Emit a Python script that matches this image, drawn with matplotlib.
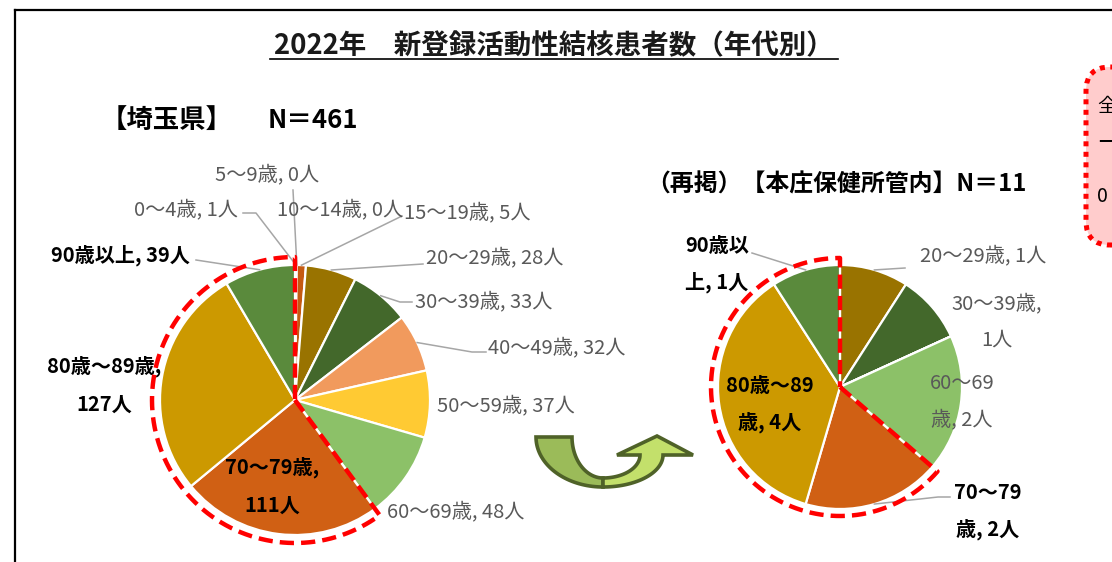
import numpy as np
import matplotlib
matplotlib.use("Agg")
import matplotlib.pyplot as plt
from matplotlib.patches import Polygon, FancyBboxPatch
from matplotlib.lines import Line2D

plt.rcParams['font.family'] = ['Noto Sans CJK JP', 'DejaVu Sans']

# ---------------- data ----------------
categories = ["0～4歳", "5～9歳", "10～14歳", "15～19歳", "20～29歳", "30～39歳",
              "40～49歳", "50～59歳", "60～69歳", "70～79歳", "80歳～89歳", "90歳以上"]
saitama_counts = [1, 0, 0, 5, 28, 33, 32, 37, 48, 111, 127, 39]
honjo_counts = [0, 0, 0, 0, 1, 1, 0, 0, 2, 2, 4, 1]
slice_colors = ["#843C0C", "#7F6000", "#A5A5A5", "#C55A11", "#997300", "#43682B",
                "#F19A5D", "#FFCA33", "#8CC168", "#D06014", "#CC9900", "#5A8A3C"]
title_text = "2022年　新登録活動性結核患者数（年代別）"
left_header = "【埼玉県】"
left_n = "N＝461"
right_header = "（再掲）【本庄保健所管内】N＝11"
highlight_from = 9   # 70歳以上 group (indices 9..11)

W, H = 1112, 562
fig = plt.figure(figsize=(W / 100, H / 100), dpi=100)
ax = fig.add_axes([0, 0, 1, 1])


def P(x, y):
    return (x, H - y)


GRAY = "#595959"
LEAD = "#A6A6A6"
LABEL_FS = 14.5


def make_label(i, counts, brk):
    s = f"{categories[i]}, {counts[i]}人"
    if brk == 'comma':
        s = s.replace(", ", ",\n", 1)
    elif isinstance(brk, int):
        s = s[:brk] + "\n" + s[brk:]
    return s


def draw_pie(counts, center_px, R, labels_layout, arc_pad):
    c = P(*center_px)
    wedges, _ = ax.pie(counts, colors=slice_colors, startangle=90, counterclock=False,
                       center=c, radius=R, frame=True,
                       wedgeprops=dict(edgecolor='white', linewidth=1.6))
    # labels
    for i, lay in labels_layout.items():
        txt = make_label(i, counts, lay.get('brk'))
        bold = lay.get('bold', False)
        ax.text(*P(*lay['xy']), txt, ha='center', va='center',
                fontsize=LABEL_FS, fontweight='bold' if bold else 'normal',
                color='black' if bold else GRAY, linespacing=1.95, zorder=6)
        if lay.get('leader'):
            w = wedges[i]
            mid = np.deg2rad((w.theta1 + w.theta2) / 2)
            ax_pt = (c[0] + R * np.cos(mid), c[1] + R * np.sin(mid))
            pts = [P(*p) for p in lay['leader']] + [ax_pt]
            xs, ys = zip(*pts)
            ax.plot(xs, ys, color=LEAD, lw=1.1, zorder=5)
    # red dashed outline of 70+ group
    th_max = wedges[highlight_from].theta2
    th_min = wedges[-1].theta1
    th = np.deg2rad(np.linspace(th_max, th_min, 200))
    Ra = R + arc_pad
    xs = np.concatenate([[c[0]], c[0] + Ra * np.cos(th), [c[0]]])
    ys = np.concatenate([[c[1]], c[1] + Ra * np.sin(th), [c[1]]])
    ax.plot(xs, ys, color='#FF0000', lw=3.2, dashes=(3.2, 1.6), zorder=7,
            solid_capstyle='butt', dash_capstyle='butt')
    return wedges


left_layout = {
    0: dict(xy=(186, 210), leader=[(243, 213), (256, 213)]),
    1: dict(xy=(267, 175), leader=[(293, 190)]),
    2: dict(xy=(340, 210)),
    3: dict(xy=(467, 213), leader=[(402, 216)]),
    4: dict(xy=(495, 258), leader=[(423, 264)]),
    5: dict(xy=(484, 302), leader=[(412, 302), (400, 302)]),
    6: dict(xy=(557, 348), leader=[(486, 352), (472, 352)]),
    7: dict(xy=(506, 406)),
    8: dict(xy=(456, 512)),
    9: dict(xy=(272, 486), bold=True, brk='comma'),
    10: dict(xy=(104, 385), bold=True, brk='comma'),
    11: dict(xy=(120, 255), bold=True, leader=[(196, 260)]),
}
right_layout = {
    4: dict(xy=(983, 256), leader=[(905, 268)]),
    5: dict(xy=(997, 322), brk='comma'),
    8: dict(xy=(962, 402), brk=5),
    9: dict(xy=(988, 511), bold=True, brk=5, leader=[(950, 497), (938, 497)]),
    10: dict(xy=(770, 404), bold=True, brk=6),
    11: dict(xy=(717, 264), bold=True, brk=4, leader=[(752, 253)]),
}

draw_pie(saitama_counts, (295, 400), 135, left_layout, 8)
draw_pie(honjo_counts, (840, 387), 122, right_layout, 7)

ax.set_xlim(0, W)
ax.set_ylim(0, H)
ax.set_aspect('auto')
ax.axis('off')

# ---------------- outer frame ----------------
ax.add_line(Line2D([15, W + 5], [H - 10, H - 10], color='black', lw=1.6, clip_on=False))
ax.add_line(Line2D([15, 15], [H - 10, -5], color='black', lw=1.6, clip_on=False))

# ---------------- titles ----------------
ax.text(*P(554, 46), title_text, ha='center', va='center', fontsize=19.8, fontweight='bold',
        color='#1a1a1a')
ax.add_line(Line2D([270, 838], [H - 59, H - 59], color='black', lw=1.2))
ax.text(*P(101, 120), left_header, ha='left', va='center', fontsize=19, fontweight='bold')
ax.text(*P(268, 121), left_n, ha='left', va='center', fontsize=18.5, fontweight='bold')
ax.text(*P(646, 185), right_header, ha='left', va='center', fontsize=17.2, fontweight='bold')

# ---------------- pink note box (clipped at right edge) ----------------
box = FancyBboxPatch((1086, H - 245), 120, 178,
                     boxstyle='round,pad=0,rounding_size=24',
                     facecolor='#FFCCCC', edgecolor='#FF0000', lw=3.6,
                     linestyle=(0, (1.0, 1.1)), zorder=3)
ax.add_patch(box)
ax.text(*P(1097, 107), "全国", ha='left', va='center', fontsize=14, zorder=4)
ax.text(*P(1096, 142), "－", ha='left', va='center', fontsize=14, fontweight='bold', zorder=4)
ax.text(*P(1097, 196), "0", ha='left', va='center', fontsize=14, zorder=4)

# ---------------- U-turn arrow ----------------
def ell(cx, cy, rx, ry, a0, a1, n=40):
    t = np.deg2rad(np.linspace(a0, a1, n))
    return np.column_stack([cx + rx * np.cos(t), cy + ry * np.sin(t)])  # y down

dark_outer = ell(603, 437, 67, 50, 180, 90)
dark_inner = ell(603, 437, 31, 41, 90, 180)
dark = np.vstack([dark_outer, dark_inner])
light_outer = ell(603, 455, 60, 32, 90, 0)
head = np.array([[663, 455], [693, 455], [657, 436], [617, 455], [640, 455]])
light_inner = ell(603, 455, 37, 23, 0, 90)
light = np.vstack([light_outer, head, light_inner])
for pts, fc in [(dark, '#9BBB59'), (light, '#C3E06B')]:
    xy = np.column_stack([pts[:, 0], H - pts[:, 1]])
    ax.add_patch(Polygon(xy, closed=True, facecolor=fc, edgecolor='#4F6228',
                         lw=2.6, joinstyle='miter', zorder=4))

fig.savefig("out.png", dpi=100)
